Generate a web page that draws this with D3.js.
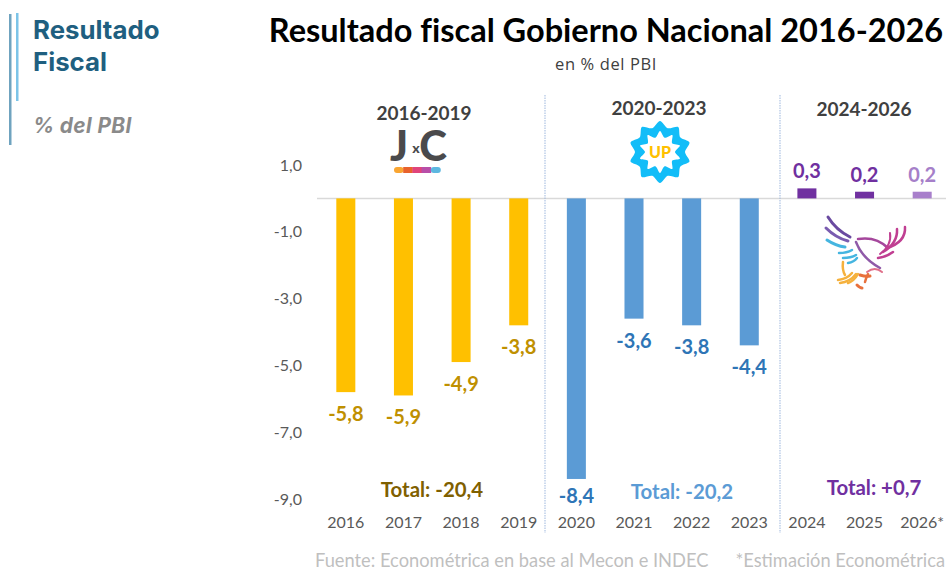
<!DOCTYPE html>
<html><head><meta charset="utf-8">
<script src="https://cdn.jsdelivr.net/npm/d3@7/dist/d3.min.js"></script>
<style>html,body{margin:0;padding:0;background:#fff;overflow:hidden}svg{display:block}text{font-family:Lato,sans-serif}</style>
</head><body><svg id="c" width="946" height="570"></svg>
<script>
const years = ["2016","2017","2018","2019","2020","2021","2022","2023","2024","2025","2026*"];
const values = [-5.8,-5.9,-4.9,-3.8,-8.4,-3.6,-3.8,-4.4,0.3,0.2,0.2];
const barColors = ["#ffc000","#ffc000","#ffc000","#ffc000","#5b9bd5","#5b9bd5","#5b9bd5","#5b9bd5","#7030a0","#7030a0","#a87fcb"];
const labelColors = ["#bf9000","#bf9000","#bf9000","#bf9000","#2e75b6","#2e75b6","#2e75b6","#2e75b6","#7030a0","#7030a0","#a67fc9"];
const yTicks = [1,-1,-3,-5,-7,-9];
const periods = ["2016-2019","2020-2023","2024-2026"];
const totals = ["Total: -20,4","Total: -20,2","Total: +0,7"];
const totalColors = ["#7f6000","#5b9bd5","#7030a0"];

const svg = d3.select("#c");
const fmt = v => d3.format(".1f")(v).replace(".",",").replace("−","-");
const x = d3.scaleBand().domain(years).range([317,951]).paddingInner(0.67).paddingOuter(0.335);
const y = d3.scaleLinear().domain([1,-9]).range([165,499]);

const T = (px,py,s,size,fill,weight,anchor,extra)=>{
  const t = svg.append("text").attr("x",px).attr("y",py).text(s).attr("font-size",size)
    .attr("fill",fill).attr("font-weight",weight||400).attr("text-anchor",anchor||"middle");
  if(extra) extra(t); return t;
};

// side heading
svg.append("rect").attr("x",9).attr("y",14).attr("width",2.5).attr("height",131).attr("fill","#6fa3bf");
svg.append("rect").attr("x",16).attr("y",13).attr("width",2.5).attr("height",88).attr("fill","#7cc4e8");
const head = t=>t.style("font-family","Inter");
T(33,39,"Resultado",25.8,"#1f5f80",700,"start",head);
T(33,71,"Fiscal",25.8,"#1f5f80",700,"start",head);
T(33,133,"% del PBI",20.8,"#8a8a8a",700,"start",t=>{head(t);t.attr("font-style","italic").style("letter-spacing","0.4px")});

// titles
T(606,42,"Resultado fiscal Gobierno Nacional 2016-2026",32.5,"#000",700,"middle",t=>t.style("font-variant-ligatures","none"));
T(606,70,"en % del PBI",16.5,"#404040",400,"middle",t=>t.style("font-family","Open Sans").style("letter-spacing","0.6px"));

// zero line + separators
svg.append("line").attr("x1",317).attr("x2",946).attr("y1",y(0)).attr("y2",y(0)).attr("stroke","#d9d9d9").attr("stroke-width",1.5);
[545,780].forEach(px=>svg.append("line").attr("x1",px).attr("x2",px).attr("y1",95).attr("y2",533)
  .attr("stroke","#9db7dd").attr("stroke-width",1).attr("stroke-dasharray","1.5 1"));

// y axis labels
const yAxis = d3.axisLeft(y).tickValues(yTicks).tickSize(0).tickPadding(0).tickFormat(fmt);
const gy = svg.append("g").attr("transform","translate(302,0)").call(yAxis);
gy.select(".domain").remove();
gy.selectAll("text").attr("font-size",16).attr("fill","#595959").style("font-family","Lato");

// x axis labels
const xAxis = d3.axisBottom(x).tickSize(0).tickPadding(0);
const gx = svg.append("g").attr("transform","translate(0,517)").call(xAxis);
gx.select(".domain").remove();
gx.selectAll("text").attr("font-size",16).attr("fill","#595959").style("font-family","Lato");

// bars
svg.append("g").selectAll("rect").data(values).join("rect")
  .attr("x",(d,i)=>x(years[i])).attr("width",x.bandwidth())
  .attr("y",d=>y(Math.max(d,0))).attr("height",d=>Math.abs(y(d)-y(0)))
  .attr("fill",(d,i)=>barColors[i]);

// value labels
svg.append("g").selectAll("text").data(values).join("text")
  .attr("x",(d,i)=>x(years[i])+x.bandwidth()/2)
  .attr("y",d=>d>=0?y(d)-10:y(d)+(d<-8?24:29))
  .attr("text-anchor","middle").attr("font-size",20).attr("font-weight",700)
  .attr("fill",(d,i)=>labelColors[i]).text(fmt);

// period headings
[[424,120],[659,115],[864,116]].forEach((p,i)=>T(p[0],p[1],periods[i],19,"#404040",700));
// totals
[[432,497],[682,499],[874,495]].forEach((p,i)=>T(p[0],p[1],totals[i],20.4,totalColors[i],700));

// footer
T(315,567,"Fuente: Econométrica  en base al Mecon e INDEC",18.3,"#bfbfbf",400,"start");
T(945,567,"*Estimación Econométrica",18.3,"#bfbfbf",400,"end");

// JxC logo
T(399,161,"J",42,"#4a4a4c",900);
T(416,153,"x",14,"#4a4a4c",900);
T(433,161,"C",42,"#4a4a4c",900);
const jc = ["#f9a531","#e8622c","#e0457b","#b84ea8","#5db7e0"];
jc.forEach((c,i)=>svg.append("rect").attr("x",394+i*9.2).attr("y",167).attr("width",i==4?10:9.6).attr("height",6).attr("rx",i==0||i==4?3:0).attr("fill",c));

// UP logo: ten-point badge
const star = (cx,cy,n,R,r)=>{
  const pts=d3.range(n*2).map(i=>{const a=i*Math.PI/n-Math.PI/2, q=i%2?r:R;return [cx+q*Math.cos(a),cy+q*Math.sin(a)];});
  return d3.line().curve(d3.curveCardinalClosed.tension(0.2))(pts);
};
svg.append("path").attr("d",star(660,152,10,31,25)).attr("fill","#12bdf8");
svg.append("path").attr("d",star(660,152,10,21,15)).attr("fill","#fff");
T(660,158,"UP",16,"#ffc000",900);

// eagle logo
const strokes = [
 ["#6a4aa0","M828 217Q836 230 850 237",3],["#7a5cb0","M826 228Q836 238 848 241",3],
 ["#45b5e0","M827 240Q836 246 845 247",3],["#45b5e0","M839 253Q847 253 852 250",2.5],["#45b5e0","M843 258Q851 258 856 255",2.5],["#45b5e0","M848 263Q854 262 857 258",2.5],
 ["#a5479c","M858 239Q876 236 888 248",2.5],["#8f5aa8","M856 242Q862 258 880 268",2.5],
 ["#c03f92","M905 227Q906 242 887 248",2.5],["#c03f92","M897 229Q898 243 883 252",2.5],["#c03f92","M890 233Q892 245 880 254",2],["#c03f92","M878 258Q886 257 893 252",2.5],
 ["#e0708a","M867 272Q875 266 882 272",2],
 ["#e8703c","M860 275Q866 277 870 276",3],["#e8703c","M865 282Q866 278 868 274",2.5],["#e8703c","M857 285Q860 288 862 288",3],
 ["#f5b13d","M843 262Q842 270 845 275",2.5],["#f5b13d","M838 280Q847 279 852 273",2.5],["#f5b13d","M840 283Q850 282 856 274",2.5],["#f5b13d","M848 283Q854 281 858 274",2.5]
];
svg.append("g").attr("fill","none").attr("stroke-linecap","round")
  .selectAll("path").data(strokes).join("path").attr("stroke",d=>d[0]).attr("stroke-width",d=>d[2]).attr("d",d=>d[1]);
</script></body></html>
